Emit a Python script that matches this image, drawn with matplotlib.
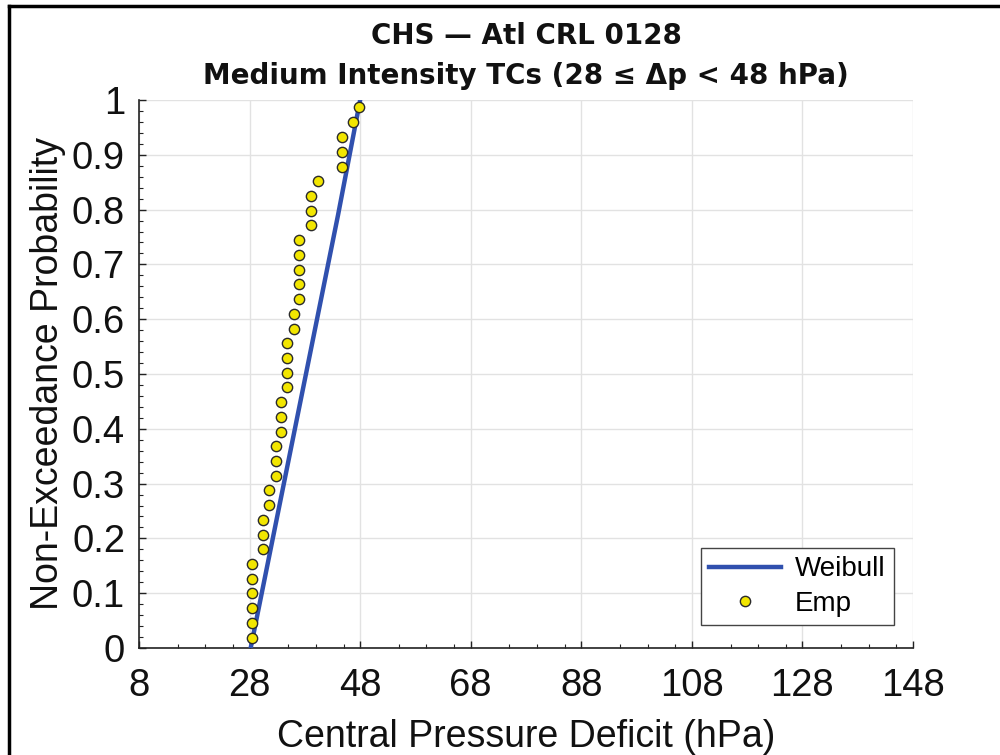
import matplotlib
matplotlib.use("Agg")
import matplotlib.pyplot as plt
from matplotlib.ticker import MultipleLocator, FixedLocator
from matplotlib.lines import Line2D

plt.rcParams['font.family'] = ['Liberation Sans', 'DejaVu Sans']

# Weibull fitted CDF
weibull_x = [28.2, 30.1, 32.0, 34.0, 36.0, 38.0, 40.0, 42.0, 44.0, 46.0, 48.0]
weibull_p = [0.0, 0.095, 0.19, 0.29, 0.39, 0.49, 0.59, 0.69, 0.79, 0.895, 1.0]

# Empirical non-exceedance probabilities
emp_x = [28.4, 28.4, 28.4, 28.4, 28.4, 28.4,
         30.5, 30.5, 30.5,
         31.6, 31.6,
         32.7, 32.7, 32.7,
         33.7, 33.7, 33.7,
         34.8, 34.8, 34.8, 34.8,
         36.0, 36.0,
         37.0, 37.0, 37.0, 37.0, 37.0,
         39.2, 39.2, 39.2,
         40.3,
         44.7, 44.7, 44.7,
         46.7,
         47.8]
emp_p = [0.019, 0.046, 0.073, 0.100, 0.126, 0.154,
         0.180, 0.207, 0.234,
         0.261, 0.288,
         0.314, 0.342, 0.368,
         0.395, 0.422, 0.448,
         0.476, 0.502, 0.530, 0.556,
         0.583, 0.610,
         0.636, 0.664, 0.690, 0.718, 0.744,
         0.771, 0.798, 0.825,
         0.853,
         0.878, 0.905, 0.932,
         0.959,
         0.987]

xticks = [8, 28, 48, 68, 88, 108, 128, 148]
xminor = [15, 20, 25, 35, 40, 45, 55, 60, 65, 75, 80, 85, 95, 100, 105,
          115, 120, 125, 135, 140, 145]
yticks = [0, 0.1, 0.2, 0.3, 0.4, 0.5, 0.6, 0.7, 0.8, 0.9, 1]
ytick_labels = ['0', '0.1', '0.2', '0.3', '0.4', '0.5', '0.6', '0.7', '0.8', '0.9', '1']

title1 = 'CHS \u2014 Atl CRL 0128'
title2 = 'Medium Intensity TCs (28 \u2264 \u0394p < 48 hPa)'

W, H = 1000, 755
fig = plt.figure(figsize=(W / 100, H / 100), dpi=100)
fig.patch.set_facecolor('white')

# figure frame
fig.add_artist(Line2D([9 / W, 9 / W], [0, 1 - 6 / H], transform=fig.transFigure,
                      color='black', lw=2.5, solid_capstyle='projecting'))
fig.add_artist(Line2D([9 / W, 1], [1 - 6 / H, 1 - 6 / H], transform=fig.transFigure,
                      color='black', lw=2.5, solid_capstyle='projecting'))

ax = fig.add_axes([139 / W, 1 - 648 / H, (913 - 139) / W, (648 - 100) / H])

ax.plot(weibull_x, weibull_p, color='#3050ae', lw=3.2, label='Weibull', zorder=3)
ax.plot(emp_x, emp_p, linestyle='none', marker='o', markersize=7.4,
        markerfacecolor='#f2e600', markeredgecolor='#2a2a2a', markeredgewidth=1.0,
        label='Emp', zorder=4)

ax.set_xlim(8, 148)
ax.set_ylim(0, 1)
ax.set_xticks(xticks)
ax.set_xticklabels([str(v) for v in xticks])
ax.set_yticks(yticks)
ax.set_yticklabels(ytick_labels)
ax.xaxis.set_minor_locator(FixedLocator(xminor))
ax.yaxis.set_minor_locator(MultipleLocator(0.02))

ax.grid(True, which='major', color='#e2e2e2', lw=1.0, zorder=0)
ax.set_axisbelow(True)
for s in ['top', 'right']:
    ax.spines[s].set_visible(False)
for s in ['left', 'bottom']:
    ax.spines[s].set_color('#222222')
    ax.spines[s].set_linewidth(1.2)

ax.tick_params(which='major', direction='in', length=5, width=1.0, labelsize=27.5,
               colors='#222222', labelcolor='#111111')
ax.tick_params(which='minor', direction='in', length=3, width=0.8, colors='#222222')
ax.tick_params(axis='x', pad=14.5)
ax.tick_params(axis='y', pad=10)

ax.set_xlabel('Central Pressure Deficit (hPa)', fontsize=27, color='#111111', labelpad=11)
ax.set_ylabel('Non-Exceedance Probability', fontsize=27, color='#111111', labelpad=4)

fig.text(526 / W, 1 - 44 / H, title1, ha='center', va='baseline', fontsize=20,
         fontweight='bold', family=['DejaVu Sans'], color='#111111')
fig.text(526 / W, 1 - 84 / H, title2, ha='center', va='baseline', fontsize=20,
         fontweight='bold', family=['DejaVu Sans'], color='#111111')

leg = ax.legend(loc='lower right', bbox_to_anchor=(894 / W, 1 - 625 / H),
                bbox_transform=fig.transFigure, borderaxespad=0, fontsize=20,
                frameon=True, fancybox=False, framealpha=1, edgecolor='#444444',
                handlelength=2.6, handletextpad=0.5, borderpad=0.3, labelspacing=0.3)
leg.get_frame().set_linewidth(1.0)

fig.savefig('out.png', dpi=100, facecolor='white')
